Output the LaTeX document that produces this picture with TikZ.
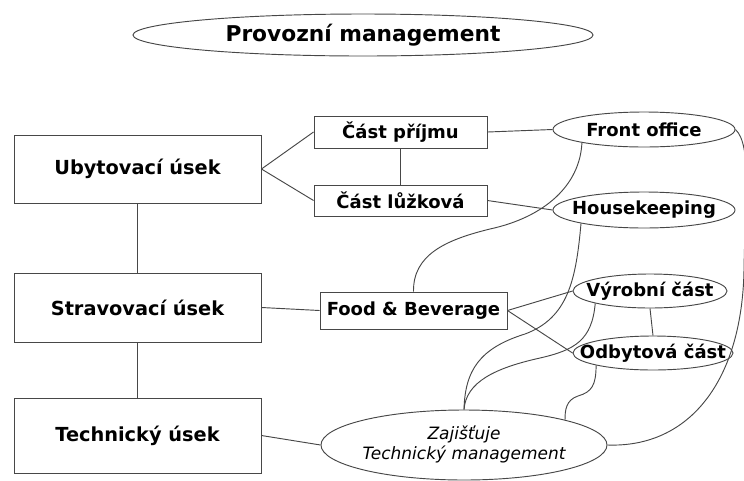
\documentclass[tikz,border=0pt]{standalone}
\usepackage{fontspec}
\setmainfont{DejaVu Sans}
\usetikzlibrary{shapes.geometric}
\newcommand{\zw}[1]{\makebox[0pt][c]{#1}}
\tikzset{
  conn/.style={draw=black!72, line width=0.7pt},
  boxnode/.style={draw=black!72, line width=0.7pt, rectangle, inner sep=0pt, font=\fontsize{14.5}{17}\bfseries\selectfont},
  subbox/.style={draw=black!72, line width=0.7pt, rectangle, inner sep=0pt, font=\fontsize{13.5}{15}\bfseries\selectfont},
  ell/.style={draw=black!72, line width=0.7pt, ellipse, inner sep=0pt, font=\fontsize{13.5}{15}\bfseries\selectfont},
}
\begin{document}
\begin{tikzpicture}[x=0.75pt,y=-0.75pt]
\useasboundingbox (0,0) rectangle (744,480);
% title
\node[ell, minimum width=345pt, minimum height=31.5pt, font=\fontsize{16.3}{19}\bfseries\selectfont] (title) at (363,35) {\zw{Provozní management}};
% left column
\node[boxnode, minimum width=185.25pt, minimum height=51pt] (ub) at (137.5,169) {Ubytovací úsek};
\node[boxnode, minimum width=185.25pt, minimum height=51.75pt] (st) at (137.5,307.5) {Stravovací úsek};
\node[boxnode, minimum width=185.25pt, minimum height=56.25pt] (te) at (137.5,435.5) {Technický úsek};
% middle
\node[subbox, minimum width=129.75pt, minimum height=24pt] (cp) at (400.5,132) {Část příjmu};
\node[subbox, minimum width=129.75pt, minimum height=23.25pt] (cl) at (400.5,200.5) {Část lůžková};
\node[subbox, minimum width=140.25pt, minimum height=27.75pt] (fb) at (413.5,310.5) {Food \& Beverage};
% right ellipses
\node[ell, minimum width=136.5pt, minimum height=26.25pt] (fo) at (644,129.5) {\zw{Front office}};
\node[ell, minimum width=136.5pt, minimum height=27pt] (hk) at (644,210) {\zw{Housekeeping}};
\node[ell, minimum width=115.5pt, minimum height=25.5pt] (vy) at (650,291) {\zw{Výrobní část}};
\node[ell, minimum width=120pt, minimum height=25.5pt] (od) at (653,353) {\zw{Odbytová část}};
\node[ell, minimum width=214.5pt, minimum height=52.5pt, font=\fontsize{12.75}{16.5}\itshape\selectfont] (zt) at (464,445) {\zw{\begin{tabular}{@{}c@{}}Zajišťuje\\[-1pt]Technický management\end{tabular}}};
% straight connectors
\draw[conn] (ub.east) -- (cp.west);
\draw[conn] (ub.east) -- (cl.west);
\draw[conn] (cp.south) -- (cl.north);
\draw[conn] (cp.east) -- (fo.west);
\draw[conn] (cl.east) -- (hk.west);
\draw[conn] (ub.south) -- (st.north);
\draw[conn] (st.south) -- (te.north);
\draw[conn] (st.east) -- (fb.west);
\draw[conn] (te.east) -- (zt.west);
\draw[conn] (fb.east) -- (vy.west);
\draw[conn] (fb.east) -- (od.west);
\draw[conn] (vy.south) -- (od.north);
% curves
\draw[conn] (fb.north) .. controls (413,255) and (445,240) .. (490,229)
  .. controls (545,217) and (580,185) .. (fo.192);
\draw[conn] (hk.192) .. controls (576,280) and (568,318) .. (525,334)
  .. controls (480,348) and (465,370) .. (zt.north);
\draw[conn] (vy.south west) .. controls (592,340) and (575,350) .. (540,358)
  .. controls (495,368) and (466,382) .. (zt.north);
\draw[conn] (od.south west) .. controls (596,385) and (592,392) .. (578,396)
  .. controls (566,400) and (565,410) .. (zt.14);
\draw[conn] (fo.east) .. controls (752,145) and (745,200) .. (744,270)
  .. controls (742,380) and (690,448) .. (zt.east);
\end{tikzpicture}
\end{document}
